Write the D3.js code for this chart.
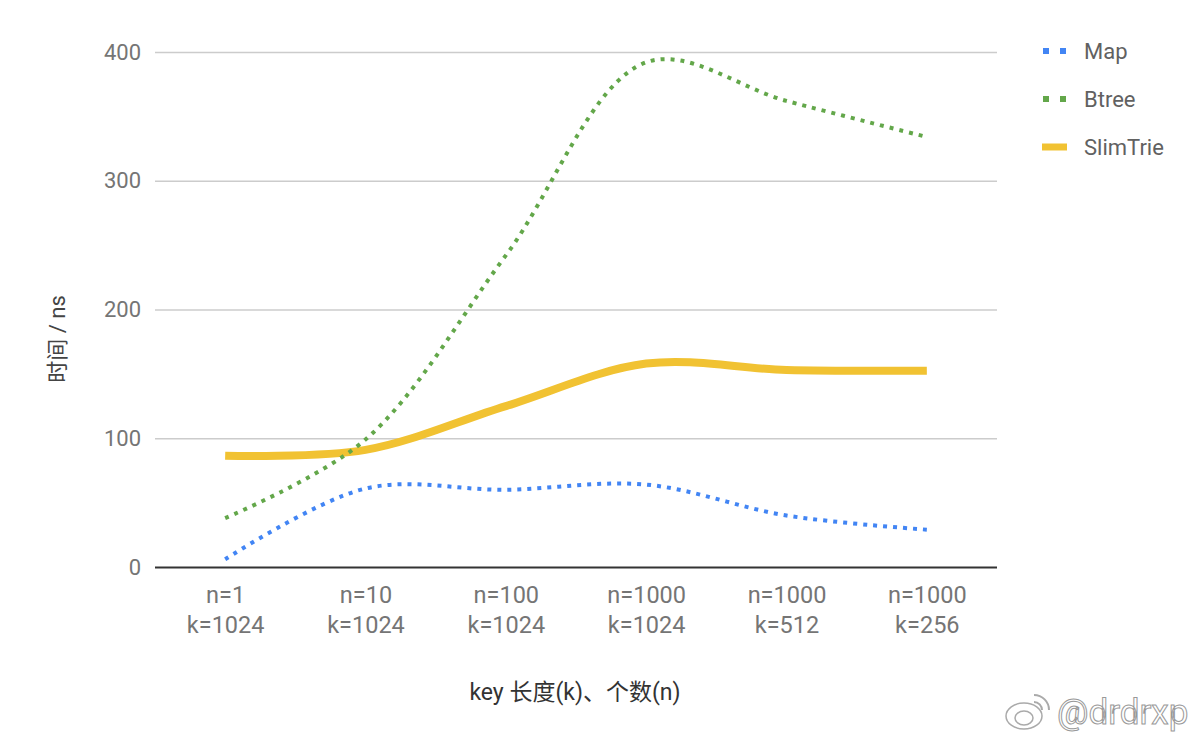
<!DOCTYPE html>
<html>
<head>
<meta charset="utf-8">
<script src="https://cdn.jsdelivr.net/npm/d3@7"></script>
<style>
  body { margin: 0; background: #fff; }
  text { font-family: Roboto, "Noto Sans CJK SC", sans-serif; }
</style>
</head>
<body>
<div id="chart-area"></div>
<script>
var categories = [
    ["n=1", "k=1024"],
    ["n=10", "k=1024"],
    ["n=100", "k=1024"],
    ["n=1000", "k=1024"],
    ["n=1000", "k=512"],
    ["n=1000", "k=256"]
];
var mapValues = [6, 61, 60, 64, 40, 29];
var btreeValues = [38, 99, 242, 392, 362, 334];
var slimTrieValues = [86.5, 91, 125, 158, 153, 152.5];
var yTicks = [0, 100, 200, 300, 400];

var seriesNames = ["Map", "Btree", "SlimTrie"];
var seriesColors = ["#4285f4", "#63a74a", "#f1c232"];

var width = 1200, height = 742;
var plot = {left: 155, right: 997, top: 52, bottom: 567};

var svg = d3.select("#chart-area")
    .append("svg")
    .attr("width", width)
    .attr("height", height);

var keys = categories.map(function(c, i) { return i; });

var xScale = d3.scalePoint()
    .domain(keys)
    .range([plot.left, plot.right])
    .padding(0.5);

var yScale = d3.scaleLinear()
    .domain([0, 400])
    .range([plot.bottom, plot.top]);

// gridlines + y labels
var yAxis = svg.append("g")
    .attr("transform", "translate(" + plot.left + ",0)")
    .call(d3.axisLeft(yScale)
        .tickValues(yTicks)
        .tickSize(-(plot.right - plot.left))
        .tickPadding(14));
yAxis.select(".domain").remove();
yAxis.selectAll(".tick line")
    .attr("stroke", function(d) { return d === 0 ? "#333" : "#cccccc"; })
    .attr("stroke-width", function(d) { return d === 0 ? 2 : 1.5; });
yAxis.selectAll(".tick text")
    .attr("fill", "#757575")
    .style("font-size", "22px");

// x labels
var xAxis = svg.append("g")
    .attr("transform", "translate(0," + plot.bottom + ")")
    .call(d3.axisBottom(xScale).tickSize(0).tickFormat(""));
xAxis.select(".domain").remove();
xAxis.selectAll(".tick").each(function(d) {
    var t = d3.select(this).append("text")
        .attr("fill", "#757575")
        .attr("text-anchor", "middle")
        .style("font-size", "23.5px");
    t.append("tspan").attr("x", 0).attr("y", 36).text(categories[d][0]);
    t.append("tspan").attr("x", 0).attr("y", 66).text(categories[d][1]);
});

// lines
var line = d3.line()
    .x(function(d, i) { return xScale(i); })
    .y(function(d) { return yScale(d); })
    .curve(d3.curveCatmullRom.alpha(0.5));

svg.append("path")
    .datum(slimTrieValues)
    .attr("d", line)
    .attr("fill", "none")
    .attr("stroke", seriesColors[2])
    .attr("stroke-width", 8);

svg.append("path")
    .datum(btreeValues)
    .attr("d", line)
    .attr("fill", "none")
    .attr("stroke", seriesColors[1])
    .attr("stroke-width", 4)
    .attr("stroke-dasharray", "4,6");

svg.append("path")
    .datum(mapValues)
    .attr("d", line)
    .attr("fill", "none")
    .attr("stroke", seriesColors[0])
    .attr("stroke-width", 4)
    .attr("stroke-dasharray", "4,6");

// legend
var legend = svg.append("g").attr("transform", "translate(1042,51)");
seriesNames.forEach(function(name, i) {
    var g = legend.append("g").attr("transform", "translate(0," + (i * 48) + ")");
    if (i < 2) {
        g.append("line")
            .attr("x1", 1).attr("x2", 25)
            .attr("stroke", seriesColors[i])
            .attr("stroke-width", 6)
            .attr("stroke-dasharray", "6,11");
    } else {
        g.append("line")
            .attr("x1", 0).attr("x2", 25)
            .attr("stroke", seriesColors[i])
            .attr("stroke-width", 7);
    }
    g.append("text")
        .attr("x", 42)
        .attr("y", 8)
        .attr("fill", "#616161")
        .style("font-size", "22px")
        .text(name);
});

// axis titles
svg.append("text")
    .attr("x", 575)
    .attr("y", 700)
    .attr("text-anchor", "middle")
    .attr("fill", "#333")
    .style("font-size", "23px")
    .text("key 长度(k)、个数(n)");

svg.append("text")
    .attr("transform", "translate(65,339) rotate(-90)")
    .attr("text-anchor", "middle")
    .attr("fill", "#444")
    .style("font-size", "22px")
    .text("时间 / ns");

// watermark
var wm = svg.append("g").attr("transform", "translate(1003,712)");
wm.append("ellipse")
    .attr("cx", 21).attr("cy", 4).attr("rx", 18).attr("ry", 13)
    .attr("fill", "#fff").attr("stroke", "#aaa").attr("stroke-width", 1.5);
wm.append("ellipse")
    .attr("cx", 21).attr("cy", 6).attr("rx", 9).attr("ry", 7)
    .attr("fill", "none").attr("stroke", "#aaa").attr("stroke-width", 1.5);
wm.append("path")
    .attr("d", "M31,-17 A15,15 0 0 1 46,-2 M31,-10 A8,8 0 0 1 39,-2")
    .attr("fill", "none").attr("stroke", "#aaa").attr("stroke-width", 2);
wm.append("text")
    .attr("x", 54)
    .attr("y", 12)
    .attr("fill", "#fff")
    .attr("stroke", "#999")
    .attr("stroke-width", 1)
    .style("font-size", "35px")
    .text("@drdrxp");
</script>
</body>
</html>
